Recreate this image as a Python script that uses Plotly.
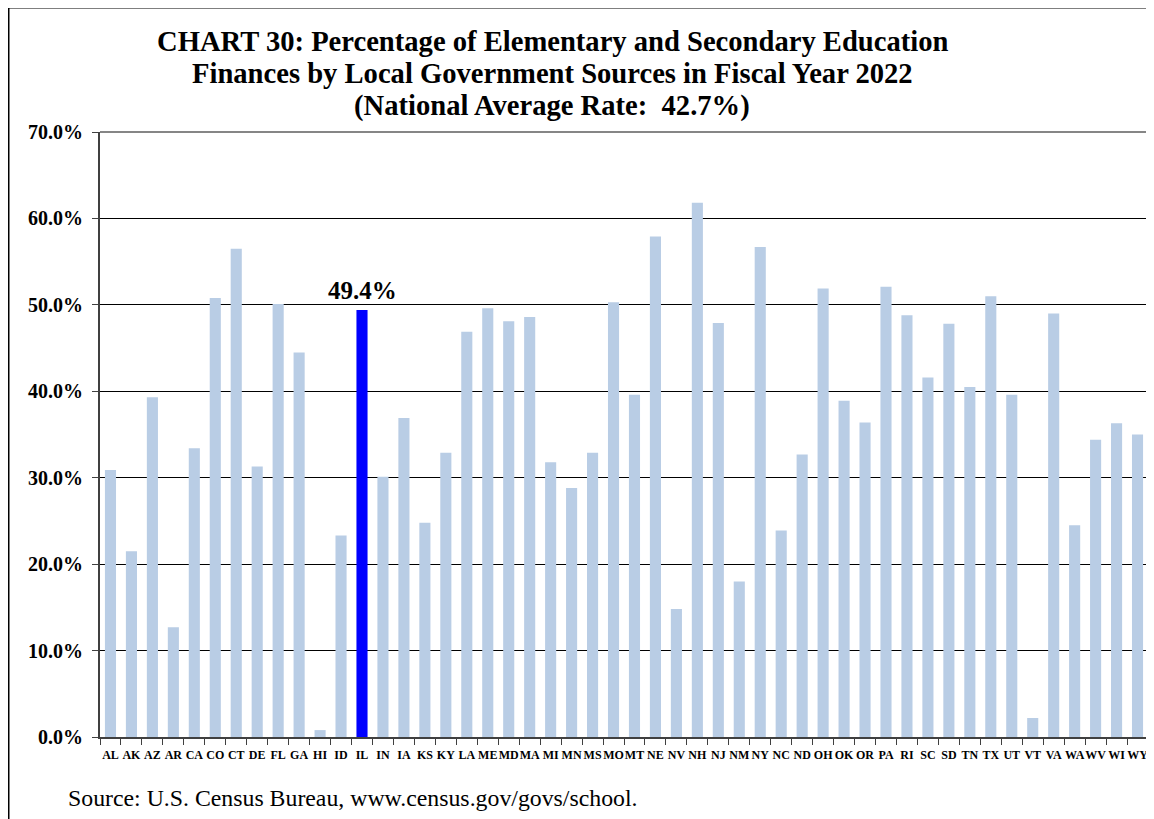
import plotly.graph_objects as go

states = ["AL","AK","AZ","AR","CA","CO","CT","DE","FL","GA","HI","ID","IL","IN","IA","KS","KY","LA",
          "ME","MD","MA","MI","MN","MS","MO","MT","NE","NV","NH","NJ","NM","NY","NC","ND","OH","OK",
          "OR","PA","RI","SC","SD","TN","TX","UT","VT","VA","WA","WV","WI","WY"]
local_pct = [30.9,21.5,39.3,12.7,33.4,50.8,56.5,31.3,50.1,44.5,0.8,23.3,49.4,30.1,36.9,24.8,32.9,46.9,
             49.6,48.1,48.6,31.8,28.8,32.9,50.3,39.6,57.9,14.8,61.8,47.9,18.0,56.7,23.9,32.7,51.9,38.9,
             36.4,52.1,48.8,41.6,47.8,40.5,51.0,39.6,2.2,49.0,24.5,34.4,36.3,35.0]
highlight_state = "IL"
y_ticks = [0,10,20,30,40,50,60,70]

title_lines = ["CHART 30: Percentage of Elementary and Secondary Education",
               "Finances by Local Government Sources in Fiscal Year 2022",
               "(National Average Rate:  42.7%)"]
source_text = "Source: U.S. Census Bureau, www.census.gov/govs/school."

BASE = "#B9CDE5"
HI = "#0000FF"
colors = [HI if s == highlight_state else BASE for s in states]

SERIF = "Liberation Serif"

# page offset (default body margin of the html page)
OFF = 8
W, H = 1146, 811
L, R, T, B = 92, 6, 123.7, 81.7
pw = W - L - R
ph = H - T - B

def px_x(px):
    return (px - OFF - L) / pw

def px_y(py):
    return (H - B - (py - OFF)) / ph

fig = go.Figure()
fig.add_trace(go.Bar(x=states, y=local_pct, marker=dict(color=colors, line=dict(width=0)),
                     hoverinfo="x+y", showlegend=False))

hi_idx = states.index(highlight_state)
fig.add_annotation(x=states[hi_idx], y=local_pct[hi_idx], text="<b>%.1f%%</b>" % local_pct[hi_idx],
                   showarrow=False, yanchor="bottom", yshift=4,
                   font=dict(family=SERIF, size=25, color="black"))

# outer frame
fig.add_shape(type="rect", xref="paper", yref="paper",
              x0=px_x(8.5), x1=px_x(1170), y0=px_y(835), y1=px_y(7),
              line=dict(color="black", width=2), layer="above")
# plot area border (top and right)
fig.add_shape(type="line", xref="paper", yref="paper", x0=0, x1=1, y0=1, y1=1,
              line=dict(color="#868686", width=2))
fig.add_shape(type="line", xref="paper", yref="paper", x0=1, x1=1, y0=0, y1=1,
              line=dict(color="#868686", width=2))

title_centers = [41, 73, 106]
title_x = 552
for line, cy in zip(title_lines, title_centers):
    fig.add_annotation(xref="paper", yref="paper", x=px_x(title_x), y=px_y(cy),
                       xanchor="center", yanchor="middle", showarrow=False,
                       text="<b>" + line + "</b>",
                       font=dict(family=SERIF, size=28.6, color="black"))

fig.add_annotation(xref="paper", yref="paper", x=px_x(66), y=px_y(798),
                   xanchor="left", yanchor="middle", showarrow=False,
                   text=source_text, font=dict(family=SERIF, size=23.8, color="black"))

fig.update_layout(
    width=W, height=H,
    margin=dict(l=L, r=R, t=T, b=B, pad=0),
    paper_bgcolor="white", plot_bgcolor="white",
    bargap=0.47,
    font=dict(family=SERIF, color="black"),
    xaxis=dict(type="category", tickvals=states, ticktext=["<b>%s</b>" % s for s in states],
               showline=True, linecolor="#404040", linewidth=2,
               ticks="outside", tickson="boundaries", ticklen=6, tickcolor="#404040", tickwidth=1,
               tickangle=0, tickfont=dict(family=SERIF, size=12, color="black"),
               ticklabelstandoff=6,
               showgrid=False, fixedrange=True),
    yaxis=dict(range=[0, 70], tickvals=y_ticks, ticktext=["<b>%.1f%%</b>" % v for v in y_ticks],
               showline=True, linecolor="#404040", linewidth=2,
               ticks="outside", ticklen=6, tickcolor="#404040", tickwidth=1,
               ticklabelstandoff=5,
               showgrid=True, gridcolor="black", gridwidth=1, zeroline=False,
               tickfont=dict(family=SERIF, size=20, color="black"), fixedrange=True),
)

fig.write_html("out.html")
